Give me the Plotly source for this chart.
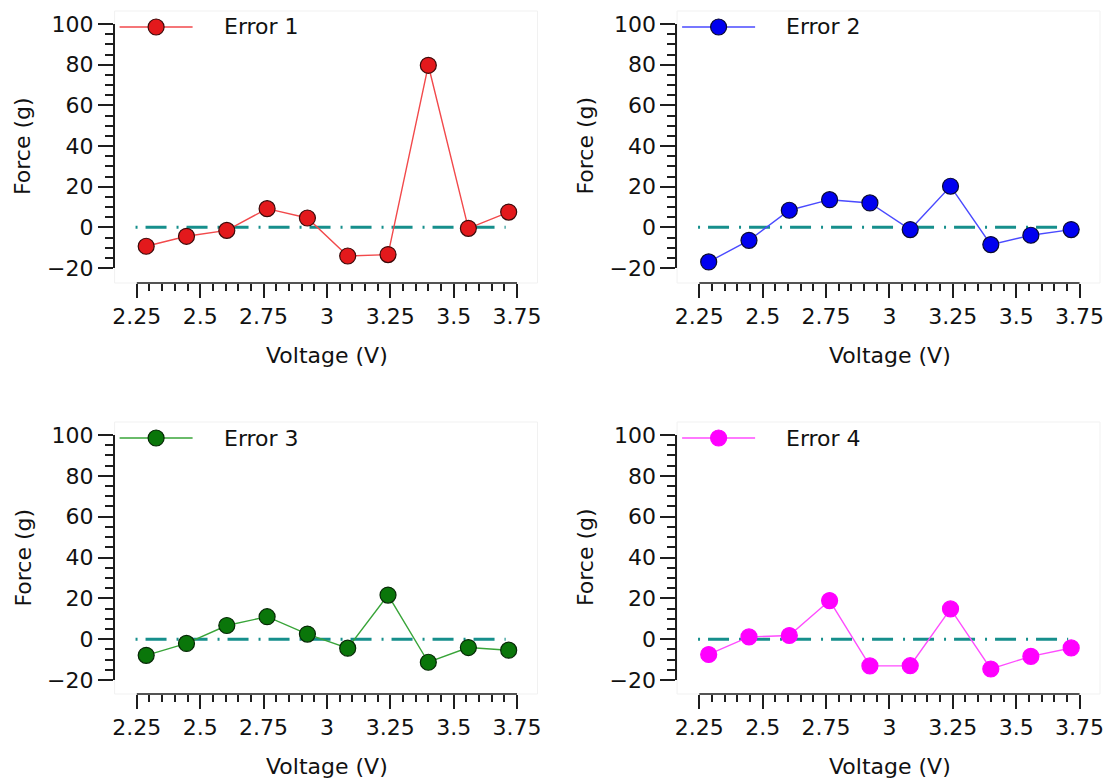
import plotly.graph_objects as go

# Measured voltage steps and force errors for the four runs
voltage = [2.287, 2.446, 2.605, 2.764, 2.923, 3.082, 3.241, 3.400, 3.558, 3.717]
error_1 = [-9.3, -4.4, -1.5, 9.2, 4.6, -14.1, -13.4, 79.7, -0.5, 7.5]
error_2 = [-17.0, -6.4, 8.4, 13.6, 12.0, -1.1, 20.2, -8.5, -3.9, -1.1]
error_3 = [-7.9, -2.1, 6.7, 11.0, 2.5, -4.4, 21.6, -11.3, -4.1, -5.4]
error_4 = [-7.5, 1.1, 1.8, 18.9, -13.1, -13.0, 14.8, -14.6, -8.4, -4.3]
series_names = ["Error 1", "Error 2", "Error 3", "Error 4"]

x_ticks = [2.25, 2.5, 2.75, 3.0, 3.25, 3.5, 3.75]
x_tick_text = ["2.25", "2.5", "2.75", "3", "3.25", "3.5", "3.75"]
y_ticks = [-20, 0, 20, 40, 60, 80, 100]
zero_line_x = [2.245, 3.705]

W, H = 1110, 781
FONT = "DejaVu Sans, Liberation Sans, sans-serif"
FS = 22
AX = "#1e1e1e"

# per-panel styling: marker fill, line colour, marker outline
styles = [
    dict(fill="#e3191c", line="#f2494b", edge="#3a0a0a"),
    dict(fill="#0000f0", line="#4a4aff", edge="#0a0a30"),
    dict(fill="#0a760a", line="#38a438", edge="#062806"),
    dict(fill="#ff00ff", line="#ff4cff", edge="#ff00ff"),
]
series = [error_1, error_2, error_3, error_4]

# panel geometry in pixels: y-axis x position, top (y=100) and bottom (y=-20)
x_range = [2.1624, 3.8307]
panel_w = 422.9
panels = [
    dict(left=114.6, top=24, bottom=268, xline=283),
    dict(left=677.1, top=24, bottom=268, xline=283),
    dict(left=114.6, top=435, bottom=680, xline=694),
    dict(left=677.1, top=435, bottom=680, xline=694),
]

minor_x = [round(2.25 + 0.05 * i, 2) for i in range(31) if i % 5 != 0]

def px(v):
    return v / W

def py(v):
    return 1 - v / H

fig = go.Figure()
shapes = []
annotations = []

for i, (p, ys, st, name) in enumerate(zip(panels, series, styles, series_names)):
    n = "" if i == 0 else str(i + 1)
    xa, ya = "x" + n, "y" + n

    # zero reference line
    fig.add_trace(go.Scatter(
        x=zero_line_x, y=[0, 0], mode="lines", xaxis=xa, yaxis=ya,
        line=dict(color="#168f8c", width=3, dash="2px,8px,21px,10px"),
        showlegend=False, hoverinfo="skip"))

    fig.add_trace(go.Scatter(
        x=voltage, y=ys, mode="lines+markers", name=name, xaxis=xa, yaxis=ya,
        line=dict(color=st["line"], width=1.4),
        marker=dict(size=16, color=st["fill"], line=dict(color=st["edge"], width=1.2)),
        cliponaxis=False, showlegend=False))

    xdom = [px(p["left"]), px(p["left"] + panel_w)]
    ydom = [py(p["bottom"]), py(p["top"])]

    fig.update_layout({
        "xaxis" + n: dict(
            domain=xdom, range=x_range, anchor="free", position=py(p["xline"]),
            automargin=False,
            showline=False, showgrid=False, zeroline=False,
            tickmode="array", tickvals=x_ticks, ticktext=x_tick_text,
            ticks="outside", ticklen=14, tickwidth=1.5, tickcolor=AX,
            minor=dict(tickmode="array", tickvals=minor_x, ticks="outside",
                       ticklen=7, tickwidth=1.5, tickcolor=AX, showgrid=False),
            tickfont=dict(family=FONT, size=FS, color="#111"),
        ),
        "yaxis" + n: dict(
            domain=ydom, range=[-20, 100], anchor=xa,
            automargin=False,
            showline=True, linecolor=AX, linewidth=1.5,
            showgrid=False, zeroline=False,
            tickmode="array", tickvals=y_ticks,
            ticks="outside", ticklen=15, tickwidth=1.5, tickcolor=AX,
            minor=dict(dtick=5, tick0=0, ticks="outside", ticklen=8,
                       tickwidth=1.5, tickcolor=AX, showgrid=False),
            tickfont=dict(family=FONT, size=FS, color="#111"),
        ),
    })

    # faint plot-area frame
    shapes.append(dict(type="rect", xref="paper", yref="paper",
                       x0=px(p["left"]), x1=px(p["left"] + panel_w),
                       y0=py(p["xline"]), y1=py(p["top"] - 13),
                       line=dict(color="#f1f1f1", width=1), layer="below"))
    # detached x-axis baseline spanning the labelled ticks
    shapes.append(dict(type="line", xref=xa, yref="paper",
                       x0=x_ticks[0], x1=x_ticks[-1],
                       y0=py(p["xline"]), y1=py(p["xline"]),
                       line=dict(color=AX, width=1.5)))

    # legend sample: line, marker, label
    ly = py(p["top"] + 3)
    shapes.append(dict(type="line", xref="paper", yref="paper",
                       x0=px(p["left"] + 5), x1=px(p["left"] + 78), y0=ly, y1=ly,
                       line=dict(color=st["line"], width=1.4)))
    shapes.append(dict(type="circle", xref="paper", yref="paper",
                       xsizemode="pixel", ysizemode="pixel",
                       xanchor=px(p["left"] + 41.5), yanchor=ly,
                       x0=-8, x1=8, y0=-8, y1=8,
                       fillcolor=st["fill"], line=dict(color=st["edge"], width=1.2)))
    annotations.append(dict(text=name, xref="paper", yref="paper",
                            x=px(p["left"] + 107), y=ly, xanchor="left", yanchor="middle",
                            showarrow=False, font=dict(family=FONT, size=FS, color="#111")))

    # axis titles
    annotations.append(dict(text="Force (g)", xref="paper", yref="paper",
                            x=px(p["left"] - 91.5), y=py((p["top"] + p["bottom"]) / 2),
                            xanchor="center", yanchor="middle", textangle=-90,
                            showarrow=False, font=dict(family=FONT, size=FS, color="#111")))
    annotations.append(dict(text="Voltage (V)", xref="paper", yref="paper",
                            x=px(p["left"] + 212.4), y=py(p["xline"] + 72),
                            xanchor="center", yanchor="middle",
                            showarrow=False, font=dict(family=FONT, size=FS, color="#111")))

fig.update_layout(
    template="none",
    width=W, height=H,
    margin=dict(l=0, r=0, t=0, b=0, pad=0),
    paper_bgcolor="white", plot_bgcolor="white",
    showlegend=False,
    shapes=shapes, annotations=annotations,
)

fig.write_html("out.html")
